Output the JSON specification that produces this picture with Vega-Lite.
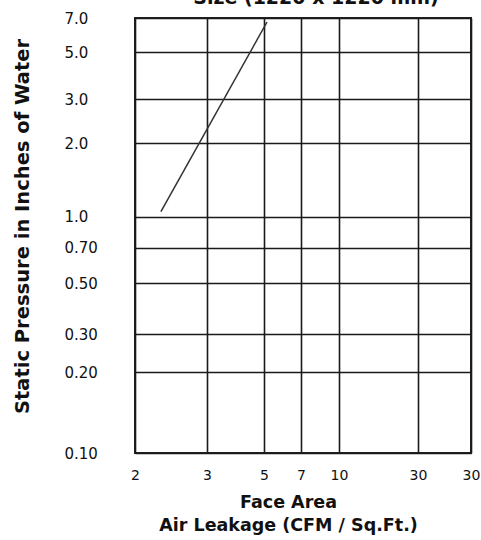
{
  "$schema": "https://vega.github.io/schema/vega-lite/v6.json",
  "width": 336,
  "height": 435,
  "autosize": {"type": "none"},
  "padding": {"left": 135, "top": 18, "right": 10, "bottom": 87},
  "background": "white",
  "title": {
    "text": "Size (1220 x 1220 mm)",
    "font": "DejaVu Sans",
    "fontSize": 19,
    "fontWeight": "bold",
    "color": "#111111",
    "anchor": "middle",
    "dx": 13,
    "baseline": "alphabetic",
    "offset": 0,
    "dy": 12
  },
  "config": {
    "view": {"stroke": "#222222", "strokeWidth": 2},
    "font": "DejaVu Sans"
  },
  "data": {
    "values": [
      {"leakage": 2.36, "pressure": 1.065},
      {"leakage": 5.16, "pressure": 6.76}
    ]
  },
  "mark": {"type": "line", "color": "#333333", "strokeWidth": 1.5},
  "encoding": {
    "x": {
      "field": "leakage",
      "type": "quantitative",
      "scale": {
        "type": "linear",
        "domain": [2, 3, 5, 7, 10, 30, 50],
        "range": [0, 72, 129, 166, 204, 283, 336],
        "nice": false,
        "zero": false
      },
      "axis": {
        "values": [2, 3, 5, 7, 10, 30, 50],
        "labelExpr": "datum.value == 50 ? '30' : datum.label",
        "grid": true,
        "gridColor": "#1a1a1a",
        "gridWidth": 1.6,
        "gridOpacity": 1,
        "domain": false,
        "ticks": false,
        "labelFont": "DejaVu Sans",
        "labelFontSize": 14,
        "labelColor": "#111111",
        "labelPadding": 15,
        "labelBaseline": "top",
        "labelFlush": false,
        "title": ["Face Area", "Air Leakage (CFM / Sq.Ft.)"],
        "titleFont": "DejaVu Sans",
        "titleFontSize": 17.5,
        "titleFontWeight": "bold",
        "titleColor": "#111111",
        "titleLineHeight": 23,
        "titleAnchor": null,
        "titleX": 153,
        "titleY": 40,
        "titleAlign": "center",
        "titleBaseline": "top"
      }
    },
    "y": {
      "field": "pressure",
      "type": "quantitative",
      "scale": {
        "type": "linear",
        "domain": [0.1, 0.2, 0.3, 0.5, 0.7, 1, 2, 3, 5, 7],
        "range": [435, 354, 316, 265, 229.5, 198.5, 125, 81, 34, 0],
        "nice": false,
        "zero": false
      },
      "axis": {
        "values": [0.1, 0.2, 0.3, 0.5, 0.7, 1, 2, 3, 5, 7],
        "labelExpr": "datum.value >= 1 ? format(datum.value, '.1f') : format(datum.value, '.2f')",
        "grid": true,
        "gridColor": "#1a1a1a",
        "gridWidth": 1.6,
        "gridOpacity": 1,
        "domain": false,
        "ticks": false,
        "labelFont": "DejaVu Sans",
        "labelFontSize": 15,
        "labelColor": "#111111",
        "labelAlign": "left",
        "labelBaseline": "middle",
        "labelPadding": 71,
        "labelFlush": false,
        "labelOverlap": false,
        "title": "Static Pressure in Inches of Water",
        "titleFont": "DejaVu Sans",
        "titleFontSize": 19.5,
        "titleFontWeight": "bold",
        "titleColor": "#111111",
        "titleAngle": -90,
        "titleX": -113,
        "titleY": 208,
        "titleAlign": "center",
        "titleBaseline": "middle"
      }
    }
  }
}
